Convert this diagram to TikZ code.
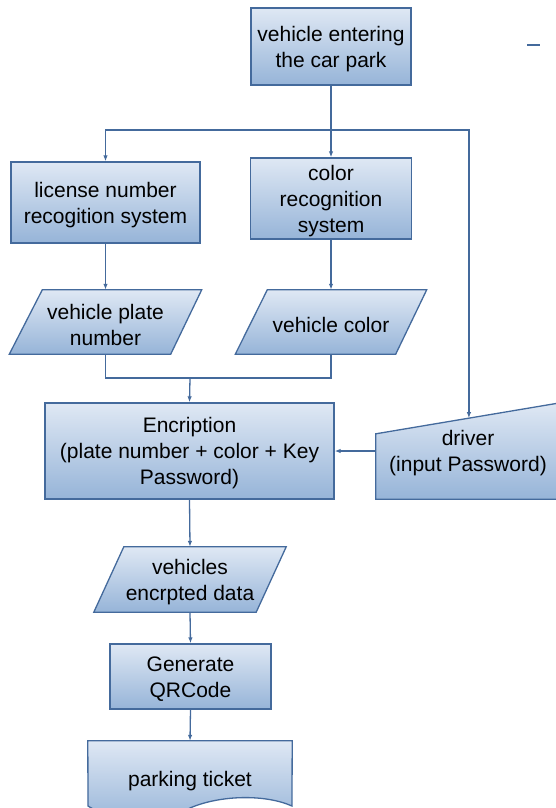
\documentclass[tikz,border=0pt]{standalone}
\usepackage{fontspec}
\setmainfont{Liberation Sans}
\usetikzlibrary{arrows.meta,calc,backgrounds}
\definecolor{ln}{RGB}{68,106,156}
\definecolor{ftop}{RGB}{223,232,244}
\definecolor{fbot}{RGB}{150,180,216}
\begin{document}
\begin{tikzpicture}[x=1pt,y=-1pt,font=\fontsize{21}{26}\selectfont,
  fillbox/.style={draw=ln, line width=1.3pt, top color=ftop, bottom color=fbot},
  procbox/.style={fillbox, rectangle, inner sep=0pt},
  ghost/.style={rectangle, inner sep=0pt, draw=none},
  txt/.style={label={[align=center,inner sep=0pt,yshift=-2.5pt]center:{#1}}},
  arr/.style={draw=ln, line width=1.3pt, -{Latex[length=6pt,width=4.5pt]}},
  link/.style={draw=ln, line width=1.3pt}]
\useasboundingbox (0,0) rectangle (556,808);
\clip (0,0) rectangle (556,808);

\node[procbox, minimum width=160pt, minimum height=77pt, txt={vehicle entering\\the car park}] (top) at (331,46.5) {};
\node[procbox, minimum width=189pt, minimum height=81pt, txt={license number\\recogition system}] (lic) at (105.5,202.5) {};
\node[procbox, minimum width=161pt, minimum height=81pt, txt={color\\recognition\\system}] (col) at (331,198.5) {};
\node[ghost, minimum width=192pt, minimum height=64pt, txt={vehicle plate\\number}] (vpn) at (105.5,322) {};
\node[ghost, minimum width=191pt, minimum height=64pt, txt={vehicle color}] (vcol) at (331,322) {};
\node[procbox, minimum width=289pt, minimum height=96pt, txt={Encription\\(plate number + color + Key\\Password)}] (enc) at (189.5,451) {};
\node[ghost, minimum width=184pt, minimum height=96pt, txt={driver\\(input Password)}] (drv) at (468,451) {};
\node[ghost, minimum width=192pt, minimum height=65pt, txt={vehicles\\encrpted data}] (ved) at (190,579.5) {};
\node[procbox, minimum width=161pt, minimum height=65pt, txt={Generate\\QRCode}] (qr) at (190.5,676.5) {};
\node[ghost, minimum width=204pt, minimum height=76pt, txt={parking ticket}] (tkt) at (190,779) {};

\begin{scope}[on background layer]
\path[fillbox] ($(vpn.north west)+(33,0)$) -- (vpn.north east) -- ($(vpn.south east)+(-31,0)$) -- (vpn.south west) -- cycle;
\path[fillbox] ($(vcol.north west)+(32,0)$) -- (vcol.north east) -- ($(vcol.south east)+(-31,0)$) -- (vcol.south west) -- cycle;
\path[fillbox] ($(ved.north west)+(30,0)$) -- (ved.north east) -- ($(ved.south east)+(-30,0)$) -- (ved.south west) -- cycle;
\path[fillbox] (drv.south west) -- ($(drv.north west)+(0,31)$) -- (drv.north east) -- (drv.south east) -- cycle;
\path[fillbox] (tkt.north west) -- (tkt.north east) -- (292,806) .. controls (265,794) and (220,795) .. (190,808) .. controls (162,822) and (118,825) .. (88,806) -- cycle;
\end{scope}

\coordinate (j1) at (331,130);
\coordinate (dtl) at ($(drv.north west)+(0,31)$);
\coordinate (dtop) at ($(dtl)!0.505!(drv.north east)$);
\coordinate (j2) at (190,378);

\draw[arr] (top.south) -- (col.north);
\draw[arr] (j1) -| (lic.north);
\draw[arr] (j1) -| (dtop);
\draw[arr] (lic.south) -- (vpn.north);
\draw[arr] (col.south) -- (vcol.north);
\draw[link] (vpn.south) |- (j2);
\draw[link] (vcol.south) |- (j2);
\draw[arr] (j2) -- (enc.north);
\draw[arr] (drv.west) -- (enc.east);
\draw[arr] (enc.south) -- (ved.north);
\draw[arr] (ved.south) -- (qr.north);
\draw[arr] (qr.south) -- (tkt.north);

\draw[link] (527,45) -- (540,45);
\end{tikzpicture}
\end{document}
